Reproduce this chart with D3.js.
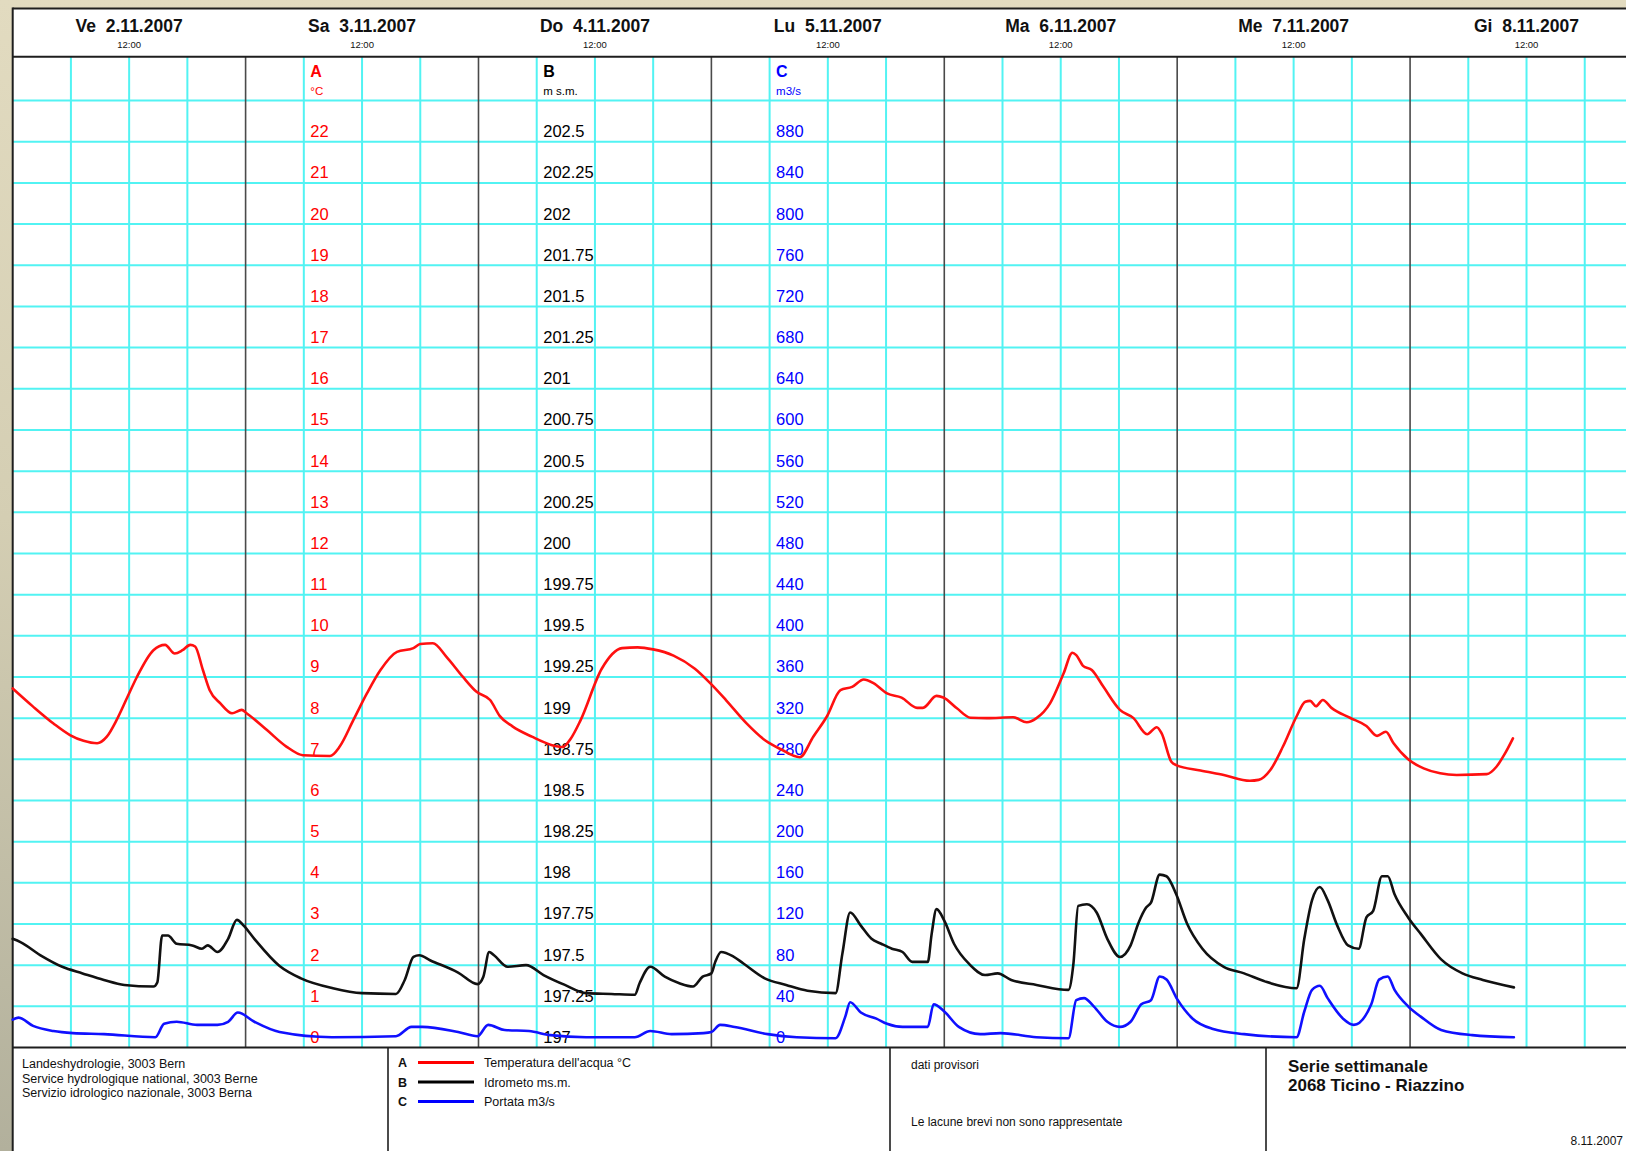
<!DOCTYPE html>
<html>
<head>
<meta charset="utf-8">
<script src="https://cdn.jsdelivr.net/npm/d3@7"></script>
<style>
  html, body { margin: 0; padding: 0; }
  body {
    width: 1626px; height: 1151px; overflow: hidden;
    background: linear-gradient(180deg, #e2dbc0 0%, #d4ceb3 45%, #b2b09c 100%);
  }
  svg { display: block; }
  text { font-family: "Liberation Sans", Arial, sans-serif; }
</style>
</head>
<body>
<svg id="chart" width="1626" height="1151"></svg>
<script>
// Weekly series 2068 Ticino - Riazzino, 2.11.2007 00:00 to 9.11.2007 00:00
// Time is given in hours since 2.11.2007 00:00.

const dayLabels = ["Ve  2.11.2007", "Sa  3.11.2007", "Do  4.11.2007", "Lu  5.11.2007",
                   "Ma  6.11.2007", "Me  7.11.2007", "Gi  8.11.2007"];
const noonLabel = "12:00";

// A: water temperature, °C
const temperature = [
  [0, 8.72], [2.1, 8.28], [4.2, 7.87], [5.9, 7.59], [7.3, 7.45], [8.7, 7.39], [9.7, 7.55],
  [10.7, 7.95], [11.8, 8.5], [12.8, 9.0], [14.5, 9.65], [15.7, 9.78], [16.7, 9.57], [17.5, 9.65],
  [18.3, 9.78], [18.8, 9.74], [19.6, 9.17], [20.3, 8.68], [21.4, 8.36], [22.6, 8.12], [23.6, 8.2],
  [24.1, 8.12], [26.2, 7.71], [28.2, 7.31], [29.9, 7.1], [32.7, 7.08], [33.7, 7.31], [35.1, 7.95],
  [36.5, 8.6], [37.9, 9.17], [39.6, 9.61], [41.3, 9.7], [42.0, 9.8], [43.3, 9.82], [44.7, 9.49],
  [46.4, 9.0], [47.8, 8.64], [49.2, 8.44], [50.2, 8.05], [51.5, 7.8], [53.5, 7.55], [55.5, 7.35],
  [56.7, 7.3], [57.5, 7.5], [58.5, 7.94], [60.7, 9.2], [62.8, 9.7], [64.4, 9.72], [66.0, 9.67],
  [68.1, 9.52], [70.3, 9.2], [72.0, 8.82], [73.5, 8.44], [75.6, 7.88], [77.6, 7.45], [79.1, 7.25],
  [81.1, 7.05], [82.5, 7.55], [83.9, 8.04], [85.3, 8.68], [86.5, 8.76], [87.7, 8.94], [88.7, 8.85],
  [90.1, 8.6], [91.6, 8.5], [93.2, 8.25], [93.8, 8.25], [95.2, 8.54], [95.9, 8.5], [97.3, 8.24],
  [98.7, 8.01], [100.4, 8.0], [103.1, 8.02], [104.5, 7.9], [105.5, 8.0], [106.9, 8.36], [108.3, 9.09],
  [109.2, 9.59], [109.6, 9.53], [110.3, 9.27], [111.2, 9.17], [112.4, 8.76], [114.1, 8.2], [115.5, 8.0],
  [116.9, 7.61], [117.9, 7.78], [118.4, 7.63], [119.4, 6.94], [119.9, 6.86], [122.4, 6.73], [124.8, 6.62],
  [127.5, 6.48], [128.4, 6.5], [129.6, 6.74], [130.9, 7.31], [132.3, 8.04], [133.2, 8.4], [133.7, 8.42],
  [134.3, 8.29], [135.0, 8.44], [135.9, 8.25], [137.8, 8.01], [139.5, 7.81], [140.6, 7.57], [141.5, 7.67],
  [142.3, 7.39], [143.8, 7.0], [145.4, 6.78], [147.1, 6.66], [148.8, 6.62], [151.9, 6.64], [152.9, 6.82],
  [153.8, 7.15], [154.6, 7.51]
];

// B: water level, m s.m.
const waterLevel = [
  [0, 197.66], [0.8, 197.64], [3.0, 197.555], [5.1, 197.49], [7.2, 197.45], [9.4, 197.41], [11.5, 197.38],
  [14.5, 197.37], [14.9, 197.395], [15.4, 197.68], [16.0, 197.68], [16.9, 197.63], [18.5, 197.62],
  [19.5, 197.6], [20.1, 197.62], [21.1, 197.58], [22.2, 197.66], [23.1, 197.775], [23.8, 197.74],
  [24.9, 197.66], [27.5, 197.495], [29.7, 197.42], [33.0, 197.36], [36.0, 197.33], [39.5, 197.325],
  [40.4, 197.41], [41.3, 197.55], [41.9, 197.56], [43.0, 197.53], [45.9, 197.455], [47.9, 197.385],
  [48.5, 197.43], [49.1, 197.58], [49.6, 197.56], [51.0, 197.49], [52.9, 197.5], [54.7, 197.44],
  [56.9, 197.38], [59.1, 197.33], [61.7, 197.325], [64.1, 197.32], [64.6, 197.39], [65.7, 197.49],
  [67.2, 197.43], [68.7, 197.39], [70.1, 197.37], [71.1, 197.43], [72.0, 197.45], [72.4, 197.52],
  [73.0, 197.58], [74.2, 197.555], [75.3, 197.51], [77.5, 197.42], [79.7, 197.38], [81.9, 197.345],
  [84.8, 197.33], [85.5, 197.57], [86.3, 197.82], [87.4, 197.74], [88.5, 197.66], [89.5, 197.63],
  [90.6, 197.6], [91.7, 197.58], [92.7, 197.52], [94.3, 197.52], [94.7, 197.69], [95.2, 197.84],
  [96.0, 197.77], [97.0, 197.63], [98.6, 197.505], [100.2, 197.44], [101.5, 197.45], [102.9, 197.41],
  [105.5, 197.38], [108.8, 197.35], [109.3, 197.505], [109.8, 197.86], [110.7, 197.87], [111.7, 197.82],
  [112.8, 197.66], [114.1, 197.55], [115.2, 197.62], [116.0, 197.755], [116.8, 197.85], [117.3, 197.88],
  [118.2, 198.05], [118.9, 198.04], [119.9, 197.93], [121.0, 197.755], [122.6, 197.6], [124.8, 197.49],
  [126.9, 197.45], [129.1, 197.4], [132.3, 197.36], [133.1, 197.66], [133.9, 197.895], [134.7, 197.975],
  [135.5, 197.895], [136.5, 197.74], [137.6, 197.62], [138.7, 197.6], [139.5, 197.79], [140.2, 197.83],
  [141.1, 198.04], [141.7, 198.04], [142.4, 197.93], [143.8, 197.79], [145.1, 197.69], [147.2, 197.535],
  [149.4, 197.45], [151.5, 197.41], [154.7, 197.365]
];

// C: discharge, m3/s
const discharge = [
  [0, 27], [0.6, 29], [2.1, 21], [4.2, 16], [6.2, 14], [9.4, 13], [14.7, 10], [15.6, 23], [16.9, 25],
  [19.0, 22], [21.1, 22], [22.2, 25], [23.2, 34], [24.9, 25], [27.5, 15], [32.9, 10], [39.5, 11],
  [41.1, 20], [42.2, 20], [45.9, 15], [47.9, 11], [49.0, 22], [50.7, 17], [53.2, 16], [55.4, 12],
  [59.1, 10], [64.1, 10], [65.7, 16], [67.9, 13], [71.2, 14], [72.0, 15], [72.9, 22], [74.4, 20],
  [77.8, 13], [80.8, 10], [84.8, 9], [85.8, 30], [86.3, 44], [87.4, 34], [89.0, 28], [90.1, 23],
  [91.7, 20], [94.3, 20], [94.9, 42], [96.0, 35], [97.5, 20], [99.7, 13], [101.8, 14], [105.5, 10],
  [108.8, 9], [109.6, 46], [110.4, 48], [111.4, 40], [112.8, 25], [114.1, 20], [115.2, 25], [116.3, 42],
  [117.3, 46], [118.2, 69], [118.9, 66], [120.0, 47], [121.6, 28], [123.7, 18], [126.9, 13], [132.3, 10],
  [133.1, 35], [133.9, 56], [134.7, 60], [135.5, 48], [137.1, 28], [138.2, 22], [140.0, 42], [140.8, 66],
  [141.7, 69], [142.4, 56], [143.8, 40], [145.1, 30], [147.2, 17], [150.4, 12], [154.7, 10]
];

// Axis tick labels for the three scales (one label per horizontal grid line)
const ticksA = [0, 1, 2, 3, 4, 5, 6, 7, 8, 9, 10, 11, 12, 13, 14, 15, 16, 17, 18, 19, 20, 21, 22];
const ticksB = ["197", "197.25", "197.5", "197.75", "198", "198.25", "198.5", "198.75", "199", "199.25",
                "199.5", "199.75", "200", "200.25", "200.5", "200.75", "201", "201.25", "201.5", "201.75",
                "202", "202.25", "202.5"];
const ticksC = [0, 40, 80, 120, 160, 200, 240, 280, 320, 360, 400, 440, 480, 520, 560, 600, 640, 680,
                720, 760, 800, 840, 880];

const legendItems = [
  { key: "A", label: "Temperatura dell'acqua °C", color: "#ff0000" },
  { key: "B", label: "Idrometo ms.m.", color: "#000000" },
  { key: "C", label: "Portata m3/s", color: "#0000ff" }
];
const addressLines = ["Landeshydrologie, 3003 Bern", "Service hydrologique national, 3003 Berne",
                      "Servizio idrologico nazionale, 3003 Berna"];

// ---------- layout ----------
const frameLeft = 12.7, frameTop = 8.5;
const headerBottom = 56.7, plotBottom = 1047.5, topLine = 100.6;
const hourPx = 9.704;
const xEnd = frameLeft + 168 * hourPx;

const svg = d3.select("#chart");

const x = d3.scaleLinear().domain([0, 168]).range([frameLeft, xEnd]);
const yA = d3.scaleLinear().domain([0, 23]).range([plotBottom, topLine]);
const yB = d3.scaleLinear().domain([197, 202.75]).range([plotBottom, topLine]);
const yC = d3.scaleLinear().domain([0, 920]).range([plotBottom, topLine]);

// white sheet
svg.append("rect").attr("x", frameLeft).attr("y", frameTop)
  .attr("width", 1700).attr("height", 1200).attr("fill", "#ffffff");

const grid = svg.append("g");
const cyan = "#52f3f3";

// horizontal grid lines
grid.selectAll("line.h").data(d3.range(1, 24)).join("line")
  .attr("x1", frameLeft).attr("x2", 1700)
  .attr("y1", d => yA(d)).attr("y2", d => yA(d))
  .attr("stroke", cyan).attr("stroke-width", 2);

// vertical grid lines every 6 hours, darker at midnight
const hours = d3.range(6, 168, 6);
grid.selectAll("line.v").data(hours.filter(h => h % 24 !== 0)).join("line")
  .attr("x1", d => x(d)).attr("x2", d => x(d))
  .attr("y1", headerBottom).attr("y2", plotBottom)
  .attr("stroke", cyan).attr("stroke-width", 2);
grid.selectAll("line.d").data(hours.filter(h => h % 24 === 0)).join("line")
  .attr("x1", d => x(d)).attr("x2", d => x(d))
  .attr("y1", headerBottom).attr("y2", plotBottom)
  .attr("stroke", "#4a4a4a").attr("stroke-width", 1.6);

// frame lines
const frame = svg.append("g").attr("stroke", "#1e1e1e").attr("stroke-width", 2);
frame.append("line").attr("x1", frameLeft).attr("x2", 1700).attr("y1", frameTop).attr("y2", frameTop);
frame.append("line").attr("x1", frameLeft).attr("x2", 1700).attr("y1", headerBottom).attr("y2", headerBottom);
frame.append("line").attr("x1", frameLeft).attr("x2", 1700).attr("y1", plotBottom).attr("y2", plotBottom);
frame.append("line").attr("x1", frameLeft).attr("x2", frameLeft).attr("y1", frameTop - 1).attr("y2", 1200);
[388, 890, 1266].forEach(px =>
  frame.append("line").attr("x1", px).attr("x2", px).attr("y1", plotBottom).attr("y2", 1200)
    .attr("stroke-width", 1.6));

// header: day names at noon
const header = svg.append("g").attr("text-anchor", "middle").attr("fill", "#111");
header.selectAll("text.day").data(dayLabels).join("text")
  .attr("x", (d, i) => x(i * 24 + 12)).attr("y", 32)
  .attr("font-size", 17.5).attr("font-weight", "bold")
  .style("white-space", "pre").text(d => d);
header.selectAll("text.noon").data(dayLabels).join("text")
  .attr("x", (d, i) => x(i * 24 + 12)).attr("y", 48)
  .attr("font-size", 9.5).text(noonLabel);

// axis labels, drawn at 06:00 of the 2nd, 3rd and 4th day
function axisLabels(hour, title, unit, ticks, color) {
  const g = svg.append("g").attr("fill", color);
  const lx = x(hour) + 6.5;
  g.append("text").attr("x", lx).attr("y", 76.5).attr("font-size", 16).attr("font-weight", "bold").text(title);
  g.append("text").attr("x", lx).attr("y", 95).attr("font-size", 11.5).text(unit);
  g.selectAll("text.t").data(ticks).join("text")
    .attr("x", lx).attr("y", (d, i) => yA(i) - 4.5)
    .attr("font-size", 16.5).text(d => d);
}
axisLabels(30, "A", "°C", ticksA, "#ff0000");
axisLabels(54, "B", "m s.m.", ticksB, "#000000");
axisLabels(78, "C", "m3/s", ticksC, "#0000ff");

// data curves
function drawSeries(data, yScale, color) {
  const line = d3.line().x(d => x(d[0])).y(d => yScale(d[1])).curve(d3.curveMonotoneX);
  svg.append("path").datum(data).attr("d", line)
    .attr("fill", "none").attr("stroke", color).attr("stroke-width", 2.6)
    .attr("stroke-linejoin", "round").attr("stroke-linecap", "round");
}
drawSeries(temperature, yA, "#ff1010");
drawSeries(waterLevel, yB, "#111111");
drawSeries(discharge, yC, "#1010ff");

// footer
const footer = svg.append("g").attr("fill", "#111");
footer.selectAll("text.addr").data(addressLines).join("text")
  .attr("x", 22).attr("y", (d, i) => 1068 + i * 14.6)
  .attr("font-size", 12.5).text(d => d);

const legend = footer.selectAll("g.leg").data(legendItems).join("g")
  .attr("transform", (d, i) => `translate(0, ${1067 + i * 19.5})`);
legend.append("text").attr("x", 398).attr("y", 0).attr("font-size", 12.5).attr("font-weight", "bold").text(d => d.key);
legend.append("line").attr("x1", 418).attr("x2", 474).attr("y1", -4.5).attr("y2", -4.5)
  .attr("stroke", d => d.color).attr("stroke-width", 3.2);
legend.append("text").attr("x", 484).attr("y", 0).attr("font-size", 12.5).text(d => d.label);

footer.append("text").attr("x", 911).attr("y", 1069).attr("font-size", 12).text("dati provisori");
footer.append("text").attr("x", 911).attr("y", 1126).attr("font-size", 12).text("Le lacune brevi non sono rappresentate");

footer.append("text").attr("x", 1288).attr("y", 1072).attr("font-size", 17).attr("font-weight", "bold").text("Serie settimanale");
footer.append("text").attr("x", 1288).attr("y", 1091).attr("font-size", 17).attr("font-weight", "bold").text("2068 Ticino - Riazzino");
footer.append("text").attr("x", 1623).attr("y", 1145).attr("text-anchor", "end").attr("font-size", 12).text("8.11.2007");
</script>
</body>
</html>
